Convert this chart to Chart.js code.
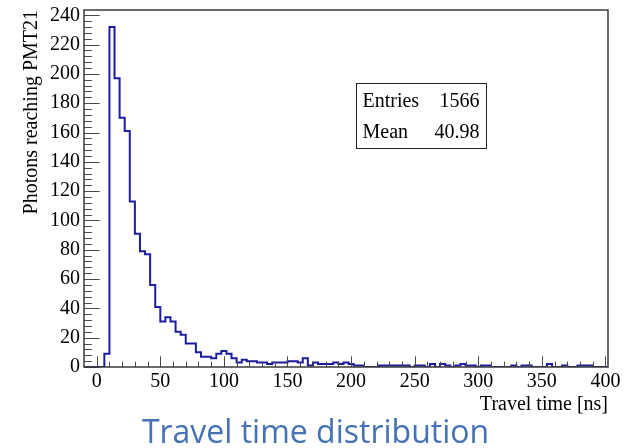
<!DOCTYPE html>
<html>
<head>
<meta charset="utf-8">
<script src="https://cdn.jsdelivr.net/npm/chart.js@4"></script>
<style>
  html, body { margin: 0; padding: 0; background: #ffffff; }
  #wrap { width: 631px; height: 448px; }
</style>
</head>
<body>
<div id="wrap"><canvas id="c" width="631" height="448"></canvas></div>
<script>
// Histogram binning: 4 ns bins starting at -10 ns
const binLowEdge = -10;
const binWidth = 4;

// Photon counts per bin (bin i covers [binLowEdge + i*binWidth, +binWidth))
const binCounts = [
  0, 0, 0, 0, 9, 232, 197, 170, 161, 113,
  91, 79, 77, 56, 41, 31, 34, 31, 24, 22,
  16, 16, 10, 7, 7, 6, 9, 11, 9, 6,
  3, 5, 4, 4, 3, 3, 2, 3, 3, 3,
  4, 4, 3, 6, 1, 3, 2, 2, 2, 3,
  2, 3, 2, 1, 1, 0, 0, 0, 1, 1,
  1, 1, 1, 1, 0, 1, 1, 0, 2, 0,
  2, 1, 0, 1, 2, 1, 1, 0, 1, 1,
  0, 0, 0, 0, 1, 0, 1, 1, 0, 0,
  0, 2, 0, 0, 1, 0, 0, 1, 1, 1,
  0, 0, 0
];

// Axis tick labels
const xTickValues = [0, 50, 100, 150, 200, 250, 300, 350, 400];
const yTickValues = [0, 20, 40, 60, 80, 100, 120, 140, 160, 180, 200, 220, 240];
const xMinorStep = 10;
const yMinorStep = 4;

// Statistics box contents
const statsLabels = ['Entries', 'Mean'];
const statsValues = ['1566', '40.98'];

const serif = 'Liberation Serif';
const binHighEdge = binLowEdge + binCounts.length * binWidth;

// Outline points at each bin's low edge, closed at the last high edge
const outline = binCounts.map((c, i) => ({ x: binLowEdge + i * binWidth, y: c }));
outline.push({ x: binHighEdge, y: binCounts[binCounts.length - 1] });

// Frame plus inward-pointing major/minor ticks on the left and bottom axes
const frameTicks = {
  id: 'frameTicks',
  afterDatasetsDraw(chart) {
    const { ctx, chartArea: a, scales } = chart;
    const xs = scales.x, ys = scales.y;
    const h = a.bottom - a.top, w = a.right - a.left;
    ctx.save();
    ctx.strokeStyle = '#4a4a4a';
    ctx.lineWidth = 1;
    ctx.beginPath();
    for (let v = 0; v <= xs.max; v += xMinorStep) {
      const px = Math.round(xs.getPixelForValue(v)) + 0.5;
      const len = (v % 50 === 0) ? 0.03 * h : 0.015 * h;
      ctx.moveTo(px, a.bottom);
      ctx.lineTo(px, a.bottom - len);
    }
    for (let v = 0; v <= ys.max; v += yMinorStep) {
      const py = Math.round(ys.getPixelForValue(v)) + 0.5;
      const len = (v % 20 === 0) ? 0.03 * w : 0.015 * w;
      ctx.moveTo(a.left, py);
      ctx.lineTo(a.left + len, py);
    }
    ctx.stroke();
    ctx.strokeStyle = '#3a3a3a';
    ctx.lineWidth = 1.5;
    ctx.strokeRect(a.left, a.top, w, h);
    ctx.restore();
  }
};

// Entries / Mean box in the upper right of the plot
const statsBox = {
  id: 'statsBox',
  afterDraw(chart) {
    const ctx = chart.ctx;
    const left = 356.5, top = 83.5, bw = 130, bh = 65;
    ctx.save();
    ctx.fillStyle = '#ffffff';
    ctx.fillRect(left, top, bw, bh);
    ctx.strokeStyle = '#222222';
    ctx.lineWidth = 1;
    ctx.strokeRect(left, top, bw, bh);
    ctx.fillStyle = '#000000';
    ctx.font = '20px "' + serif + '"';
    ctx.textBaseline = 'middle';
    statsLabels.forEach((label, i) => {
      const y = top + 18 + i * 31;
      ctx.textAlign = 'left';
      ctx.fillText(label, left + 6, y);
      ctx.textAlign = 'right';
      ctx.fillText(statsValues[i], left + bw - 7, y);
    });
    ctx.restore();
  }
};

new Chart(document.getElementById('c'), {
  type: 'line',
  data: {
    datasets: [{
      data: outline,
      stepped: 'before',
      borderColor: '#1c1ca0',
      borderWidth: 2,
      pointRadius: 0,
      fill: false,
      tension: 0
    }]
  },
  options: {
    responsive: false,
    animation: false,
    devicePixelRatio: 1,
    layout: { padding: { left: 0, right: 0, top: 10, bottom: 0 } },
    plugins: {
      legend: { display: false },
      tooltip: { enabled: false },
      title: {
        display: true,
        position: 'bottom',
        text: 'Travel time distribution',
        color: '#4472b4',
        font: { family: 'Open Sans', size: 32, weight: 'normal', lineHeight: '29px' },
        padding: 0
      }
    },
    scales: {
      x: {
        type: 'linear',
        min: binLowEdge,
        max: binHighEdge,
        afterBuildTicks: s => { s.ticks = xTickValues.map(v => ({ value: v })); },
        afterFit: s => { s.height = 52; s.paddingLeft = 0; s.paddingRight = 0; },
        grid: { display: false, drawTicks: false, tickLength: 0 },
        border: { display: false },
        ticks: {
          autoSkip: false, maxRotation: 0, padding: 3, color: '#000',
          font: { family: serif, size: 20 }
        },
        title: {
          display: true, text: 'Travel time [ns]', align: 'end', color: '#000',
          font: { family: serif, size: 20 }, padding: { top: 0, bottom: 2 }
        }
      },
      y: {
        type: 'linear',
        min: 0,
        max: 1.05 * Math.max(...binCounts),
        afterBuildTicks: s => { s.ticks = yTickValues.map(v => ({ value: v })); },
        afterFit: s => { s.width = 84; s.paddingTop = 0; s.paddingBottom = 0; },
        grid: { display: false, drawTicks: false, tickLength: 0 },
        border: { display: false },
        ticks: {
          autoSkip: false, padding: 4, color: '#000',
          font: { family: serif, size: 20 }
        },
        title: {
          display: true, text: 'Photons reaching PMT21', align: 'end', color: '#000',
          font: { family: serif, size: 20 }, padding: { top: 20, bottom: 0 }
        }
      },
      // empty right-hand margin strip of the plot frame
      yMargin: {
        type: 'linear',
        position: 'right',
        display: true,
        afterFit: s => { s.width = 23; s.paddingTop = 0; s.paddingBottom = 0; },
        grid: { display: false, drawTicks: false },
        border: { display: false },
        ticks: { display: false }
      }
    }
  },
  plugins: [frameTicks, statsBox]
});
</script>
</body>
</html>
